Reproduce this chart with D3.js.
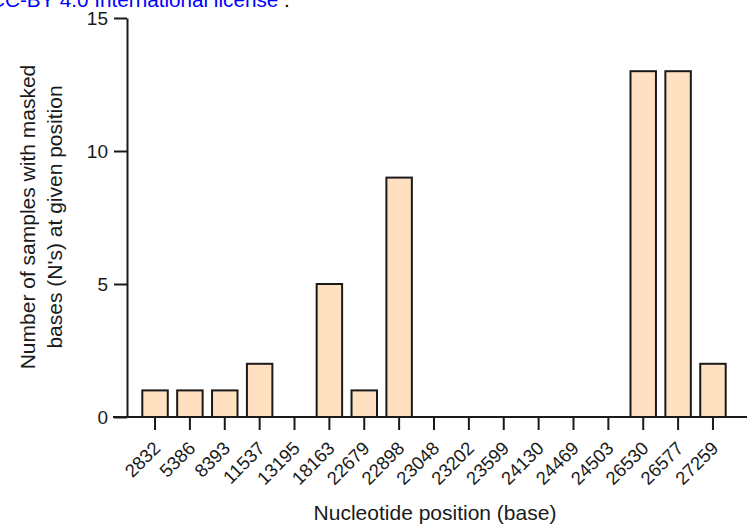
<!DOCTYPE html>
<html>
<head>
<meta charset="utf-8">
<script src="https://cdn.jsdelivr.net/npm/d3@7"></script>
<style>
  html, body { margin: 0; padding: 0; background: #fff; }
  svg { display: block; }
  text { font-family: "Liberation Sans", Arial, sans-serif; }
</style>
</head>
<body>
<svg id="chart" width="755" height="530"></svg>
<script>
const positions = ["2832","5386","8393","11537","13195","18163","22679","22898","23048","23202","23599","24130","24469","24503","26530","26577","27259"];
const counts = [1, 1, 1, 2, 0, 5, 1, 9, 0, 0, 0, 0, 0, 0, 13, 13, 2];
const yTicks = [0, 5, 10, 15];

const svg = d3.select("#chart");

const yAxisX = 127;
const plotTop = 18, plotBottom = 417;
const axisLeftExt = 113, axisRightExt = 747;

const x = d3.scaleBand()
  .domain(positions)
  .range([137.6, 730.4])
  .paddingInner(0.27)
  .paddingOuter(0.135);

const y = d3.scaleLinear().domain([0, 15]).range([plotBottom, plotTop]);

// header fragment (cropped at the top edge)
const hdr = svg.append("text")
  .attr("x", -10).attr("y", 7)
  .attr("font-size", 20.7);
hdr.append("tspan").attr("fill", "#0000ff").text("CC-BY 4.0 International license");
hdr.append("tspan").attr("fill", "#000").text(" .");

// bars
svg.append("g").selectAll("rect")
  .data(positions.map((p, i) => ({ p, v: counts[i] })).filter(d => d.v > 0))
  .join("rect")
  .attr("x", d => x(d.p))
  .attr("y", d => y(d.v))
  .attr("width", x.bandwidth())
  .attr("height", d => y(0) - y(d.v))
  .attr("fill", "#ffe0c1")
  .attr("stroke", "#1a1a1a")
  .attr("stroke-width", 2);

// y axis
const gy = svg.append("g")
  .attr("transform", `translate(${yAxisX},0)`)
  .call(d3.axisLeft(y).tickValues(yTicks).tickSize(13).tickSizeOuter(0).tickPadding(6));
gy.select(".domain").attr("stroke", "#1a1a1a").attr("stroke-width", 2);
gy.selectAll(".tick line").attr("stroke", "#1a1a1a").attr("stroke-width", 2);
gy.selectAll(".tick text").attr("font-size", 19).attr("fill", "#1a1a1a")
  .attr("font-family", "Liberation Sans, Arial, sans-serif");

// x axis
const gx = svg.append("g")
  .attr("transform", `translate(0,${plotBottom})`)
  .call(d3.axisBottom(x).tickSize(13).tickSizeOuter(0).tickPadding(4));
gx.select(".domain")
  .attr("d", `M${axisLeftExt},0H${axisRightExt}`)
  .attr("stroke", "#1a1a1a").attr("stroke-width", 2);
gx.selectAll(".tick line").attr("stroke", "#1a1a1a").attr("stroke-width", 2);
gx.selectAll(".tick text")
  .attr("font-size", 18.5)
  .attr("fill", "#1a1a1a")
  .attr("font-family", "Liberation Sans, Arial, sans-serif")
  .attr("text-anchor", "end")
  .attr("dy", null)
  .attr("y", 0)
  .attr("transform", "translate(6.5,32.5) rotate(-45)");

// axis titles
svg.append("text")
  .attr("x", 435).attr("y", 520)
  .attr("text-anchor", "middle")
  .attr("font-size", 21)
  .attr("fill", "#1a1a1a")
  .text("Nucleotide position (base)");

const yt = svg.append("text")
  .attr("transform", "translate(0,217) rotate(-90)")
  .attr("text-anchor", "middle")
  .attr("font-size", 21)
  .attr("fill", "#1a1a1a");
yt.append("tspan").attr("x", 0).attr("y", 35).text("Number of samples with masked");
yt.append("tspan").attr("x", 0).attr("y", 61.5).text("bases (N's) at given position");
</script>
</body>
</html>
